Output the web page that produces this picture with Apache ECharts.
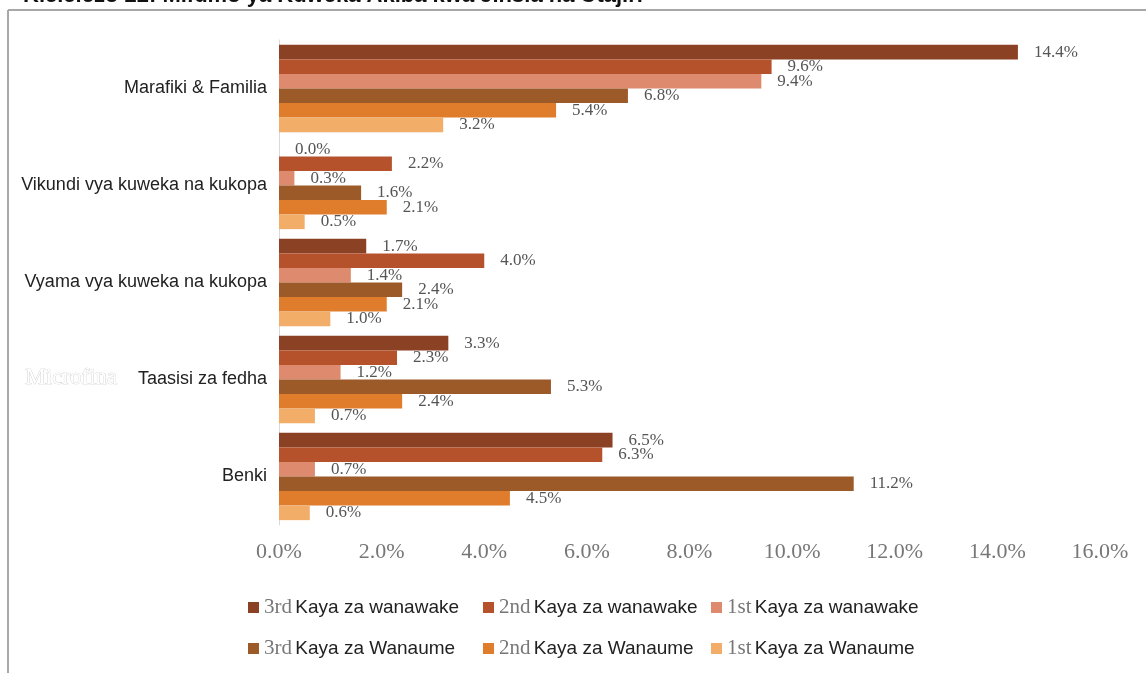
<!DOCTYPE html>
<html>
<head>
<meta charset="utf-8">
<title>Kielelezo 22</title>
<script src="https://cdn.jsdelivr.net/npm/echarts@6/dist/echarts.min.js"></script>
<style>
  html, body { margin: 0; padding: 0; background: #fff; }
  #main { width: 1146px; height: 673px; }
</style>
</head>
<body>
<div id="main"></div>
<script>
// categories, top to bottom
var categories = ['Marafiki & Familia', 'Vikundi vya kuweka na kukopa', 'Vyama vya kuweka na kukopa', 'Taasisi za fedha', 'Benki'];

var seriesNames = ['3rd Kaya za wanawake', '2nd Kaya za wanawake', '1st Kaya za wanawake',
                   '3rd Kaya za Wanaume', '2nd Kaya za Wanaume', '1st Kaya za Wanaume'];

var wanawake3 = [14.4, 0.0, 1.7, 3.3, 6.5];
var wanawake2 = [9.6, 2.2, 4.0, 2.3, 6.3];
var wanawake1 = [9.4, 0.3, 1.4, 1.2, 0.7];
var wanaume3 = [6.8, 1.6, 2.4, 5.3, 11.2];
var wanaume2 = [5.4, 2.1, 2.1, 2.4, 4.5];
var wanaume1 = [3.2, 0.5, 1.0, 0.7, 0.6];

var xTicks = [0, 2, 4, 6, 8, 10, 12, 14, 16];

var colors = ['#8a4124', '#b5522b', '#dd8a6e', '#9b5a28', '#e07d2c', '#f2ad69'];
var seriesData = [wanawake3, wanawake2, wanawake1, wanaume3, wanaume2, wanaume1];

var serif = '"Liberation Serif", "DejaVu Serif", serif';
var sans = '"Liberation Sans", Arial, sans-serif';

var chart = echarts.init(document.getElementById('main'));

var series = [];
for (var i = 0; i < seriesNames.length; i++) {
    series.push({
        name: seriesNames[i],
        type: 'bar',
        data: seriesData[i],
        barGap: '0%',
        barCategoryGap: '10%',
        itemStyle: { color: colors[i] },
        label: {
            show: true,
            position: 'right',
            distance: 16,
            formatter: function (p) { return p.value.toFixed(1) + '%'; },
            fontFamily: serif,
            fontSize: 17,
            color: '#555'
        }
    });
}

// one legend per item so they sit like the original two rows
var legendPos = [[243, 592], [478, 592], [706, 592], [243, 633], [478, 633], [706, 633]];
var legends = [];
for (var j = 0; j < seriesNames.length; j++) {
    legends.push({
        data: [seriesNames[j]],
        left: legendPos[j][0],
        top: legendPos[j][1],
        icon: 'rect',
        itemWidth: 11,
        itemHeight: 11,
        selectedMode: false,
        formatter: function (name) {
            var k = name.indexOf(' ');
            return '{n|' + name.slice(0, k) + '} {t|' + name.slice(k + 1) + '}';
        },
        textStyle: {
            rich: {
                n: { fontFamily: serif, fontSize: 21, color: '#777' },
                t: { fontFamily: sans, fontSize: 19, color: '#222' }
            }
        }
    });
}

var option = {
    backgroundColor: '#fff',
    animation: false,
    title: {
        text: 'Kielelezo 22: Mifumo ya Kuweka Akiba kwa Jinsia na Utajiri',
        left: 18,
        top: -20,
        textStyle: { fontFamily: sans, fontSize: 22, fontWeight: 'bold', color: '#111' }
    },
    legend: legends,
    grid: { left: 279, right: 46, top: 40, bottom: 148 },
    xAxis: {
        type: 'value',
        min: xTicks[0],
        max: xTicks[xTicks.length - 1],
        interval: 2,
        axisLine: { show: false },
        axisTick: { show: false },
        splitLine: { show: false },
        axisLabel: {
            margin: 16,
            fontFamily: serif,
            fontSize: 22,
            color: '#777',
            formatter: function (v) { return v.toFixed(1) + '%'; }
        }
    },
    yAxis: {
        type: 'category',
        inverse: true,
        data: categories,
        axisTick: { show: false },
        axisLine: { show: true, lineStyle: { color: '#d9d9d9', width: 1 } },
        axisLabel: {
            margin: 12,
            fontFamily: sans,
            fontSize: 18,
            color: '#222',
            backgroundColor: '#fff'
        }
    },
    graphic: [
        { type: 'line', shape: { x1: 8, y1: 10, x2: 1146, y2: 10 }, style: { stroke: '#a8a8a8', lineWidth: 2 } },
        { type: 'line', shape: { x1: 8, y1: 10, x2: 8, y2: 673 }, style: { stroke: '#a8a8a8', lineWidth: 2 } },
        { type: 'text', left: 25, top: 366, z: -1,
          style: { text: 'Microfina', font: '23px ' + serif, fill: '#fff', stroke: '#c8c8c8', lineWidth: 0.7 } }
    ],
    series: series
};

chart.setOption(option);
</script>
</body>
</html>
